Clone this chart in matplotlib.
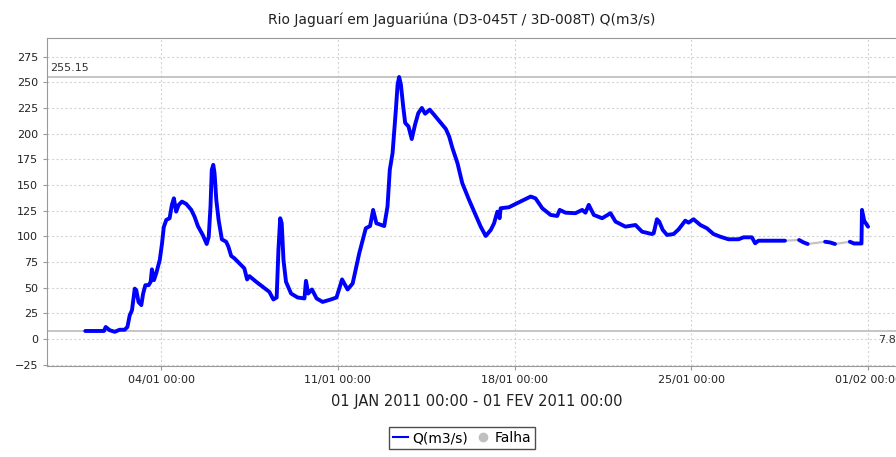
import numpy as np
import matplotlib
matplotlib.use('Agg')
import matplotlib.pyplot as plt
import matplotlib.dates as mdates
from matplotlib.lines import Line2D
from datetime import datetime, timedelta

plt.rcParams['font.family'] = ['DejaVu Sans']

# vazão: dias desde 01/01/2011 00:00 e Q (m3/s); nan = falha
dias = [0.0, 0.74, 0.81, 0.97, 1.17, 1.36, 1.56, 1.67, 1.76, 1.85, 1.96, 2.02, 2.11, 2.22,
        2.29, 2.38, 2.51, 2.59, 2.64, 2.72, 2.81, 2.95, 3.04, 3.11, 3.21, 3.34, 3.43, 3.51,
        3.60, 3.70, 3.83, 4.00, 4.20, 4.33, 4.46, 4.66, 4.81, 4.89, 4.96, 5.01, 5.07, 5.12,
        5.19, 5.28, 5.41, 5.58, 5.67, 5.78, 5.91, 6.11, 6.30, 6.41, 6.50, 6.77, 7.03, 7.29,
        7.45, 7.58, 7.65, 7.72, 7.78, 7.85, 7.95, 8.15, 8.41, 8.68, 8.74, 8.83, 8.98, 9.16,
        9.40, 9.73, 9.95, 10.17, 10.39, 10.59, 10.85, 11.11, 11.28, 11.40, 11.53, 11.84,
        11.97, 12.06, 12.17, 12.30, 12.37, 12.43, 12.50, 12.59, 12.67, 12.80, 12.93, 13.06,
        13.19, 13.33, 13.46, 13.64, 13.81, 14.08, 14.28, 14.41, 14.54, 14.74, 14.93, 15.20,
        15.46, 15.66, 15.86, 16.06, 16.19, 16.32, 16.41, 16.45, 16.78, 17.04, 17.37, 17.64,
        17.83, 18.10, 18.43, 18.69, 18.79, 19.02, 19.41, 19.68, 19.81, 19.94, 20.14, 20.47,
        20.80, 21.00, 21.39, 21.79, 22.05, 22.44, 22.51, 22.64, 22.73, 22.87, 23.04, 23.30,
        23.50, 23.76, 23.89, 24.09, 24.36, 24.62, 24.88, 25.15, 25.47, 25.87, 26.07, 26.40,
        26.53, 26.66, 27.71, 28.0, 28.27, 28.45, 28.61, 29.0, 29.30, 29.50, 29.69, 30.0,
        30.28, 30.45, 30.74, 30.76, 30.85, 31.0]
vazao = [7.8, 7.8, 11.7, 8.5, 7.0, 9.0, 9.0, 11.7, 23, 28, 49, 47.6, 36, 33,
         44, 52.4, 52.4, 55.7, 67.8, 57.3, 63.9, 76.9, 93, 109, 116, 117.6, 130.6, 137,
         124, 130.6, 133.8, 131.5, 125.7, 119, 110, 101, 92.5, 99.6, 129, 164.7, 169.6, 161.5,
         135.4, 116, 97, 94.7, 89.8, 80.8, 78.5, 73.6, 68.8, 58, 61.2, 55.7, 50.8, 45.9,
         38.5, 40.4, 86.6, 117.6, 112.7, 76.9, 55.7, 44.3, 40.4, 39.5, 56.6, 44.3, 48.2, 39.5,
         36.1, 38.5, 40.4, 58, 48.2, 54.1, 83.4, 107.8, 110, 125.7, 112.7, 110,
         129, 164.7, 181, 223, 247.8, 255.15, 247.8, 226.6, 210.4, 207, 194.7, 208.7,
         220, 225, 219.4, 223.3, 218.5, 210.4, 204.5, 197.3, 186, 171.3, 151.8, 135.4,
         120.8, 109.4, 100.3, 106.2, 112.7, 124, 117.6, 127.3, 128.3, 131.5, 135.4, 138.7,
         137, 127.3, 120.8, 119.8, 125.7, 123, 122.5, 125.7, 123, 130.6, 120.8, 117.6,
         122.5, 114.3, 109.4, 111, 104.5, 102.2, 103, 116.6, 114.3, 106.2, 101.3, 102.2,
         106.8, 115.2, 113.3, 116.6, 111, 107.8, 102.2, 99.6, 97.1, 97.1, 99, 99,
         93.2, 95.7, 95.7, np.nan, 96.4, 94, 92.5, np.nan, 94.7, 94, 92.5, np.nan,
         94.7, 93, 93, 125.7, 115, 109.4]

q_max = 255.15
q_min = 7.8
titulo = 'Rio Jaguarí em Jaguariúna (D3-045T / 3D-008T) Q(m3/s)'
periodo = '01 JAN 2011 00:00 - 01 FEV 2011 00:00'

t0 = datetime(2011, 1, 1)
t = np.array([t0 + timedelta(days=d) for d in dias])
q = np.array(vazao, dtype=float)
ok = np.isfinite(q)

W, H = 896, 457
fig = plt.figure(figsize=(W / 100, H / 100), dpi=100)
ax = fig.add_axes([47 / W, 1 - 366.3 / H, (906.3 - 47) / W, (366.3 - 37.5) / H])

# falha: linha cinza ligando os trechos
ax.plot(t[ok], q[ok], color='#c4c4c4', lw=1.6, zorder=2)
ax.plot(t, q, color='#0000ff', lw=2.8, solid_capstyle='round', solid_joinstyle='round', zorder=3)

ax.axhline(q_max, color='#c0c0c0', lw=1.3, zorder=1)
ax.axhline(q_min, color='#c0c0c0', lw=1.3, zorder=1)
ax.text(0.004, q_max + 4, f'{q_max:.2f}', transform=ax.get_yaxis_transform(),
        fontsize=8, color='#333333', va='bottom', ha='left')
ax.text(t0 + timedelta(days=31.4), q_min - 4, f'{q_min:g}', fontsize=8, color='#333333',
        va='top', ha='left')

ax.set_xlim(t0 - timedelta(days=1.515), t0 + timedelta(days=32.515))
ax.set_ylim(-26.6, 293.6)
ax.set_yticks(np.arange(-25, 276, 25))
ax.set_xticks([t0 + timedelta(days=d) for d in (3, 10, 17, 24, 31)])
ax.xaxis.set_major_formatter(mdates.DateFormatter('%d/%m %H:%M'))

ax.grid(True, color='#d4d4d4', ls=(0, (2, 2)), lw=0.8)
ax.set_axisbelow(True)
for s in ax.spines.values():
    s.set_color('#999999')
ax.tick_params(colors='#999999', labelcolor='#222222', labelsize=8, length=3, width=0.8)

ax.set_xlabel(periodo, fontsize=10.5, color='#222222', labelpad=6)
fig.text(462 / W, 1 - 20 / H, titulo, ha='center', va='center', fontsize=10, color='#222222')

handles = [Line2D([], [], color='#0000ff', lw=1.5),
           Line2D([], [], color='#c0c0c0', marker='o', ls='none', ms=6)]
leg = fig.legend(handles, ['Q(m3/s)', 'Falha'], loc='upper center',
                 bbox_to_anchor=(462 / W, 1 - 427 / H), ncol=2, fontsize=10,
                 frameon=True, fancybox=False, handlelength=1.1, handletextpad=0.3,
                 columnspacing=0.5, borderpad=0.3, borderaxespad=0)
leg.get_frame().set_edgecolor('#222222')
leg.get_frame().set_linewidth(1.0)

fig.savefig('out.png', dpi=100)
